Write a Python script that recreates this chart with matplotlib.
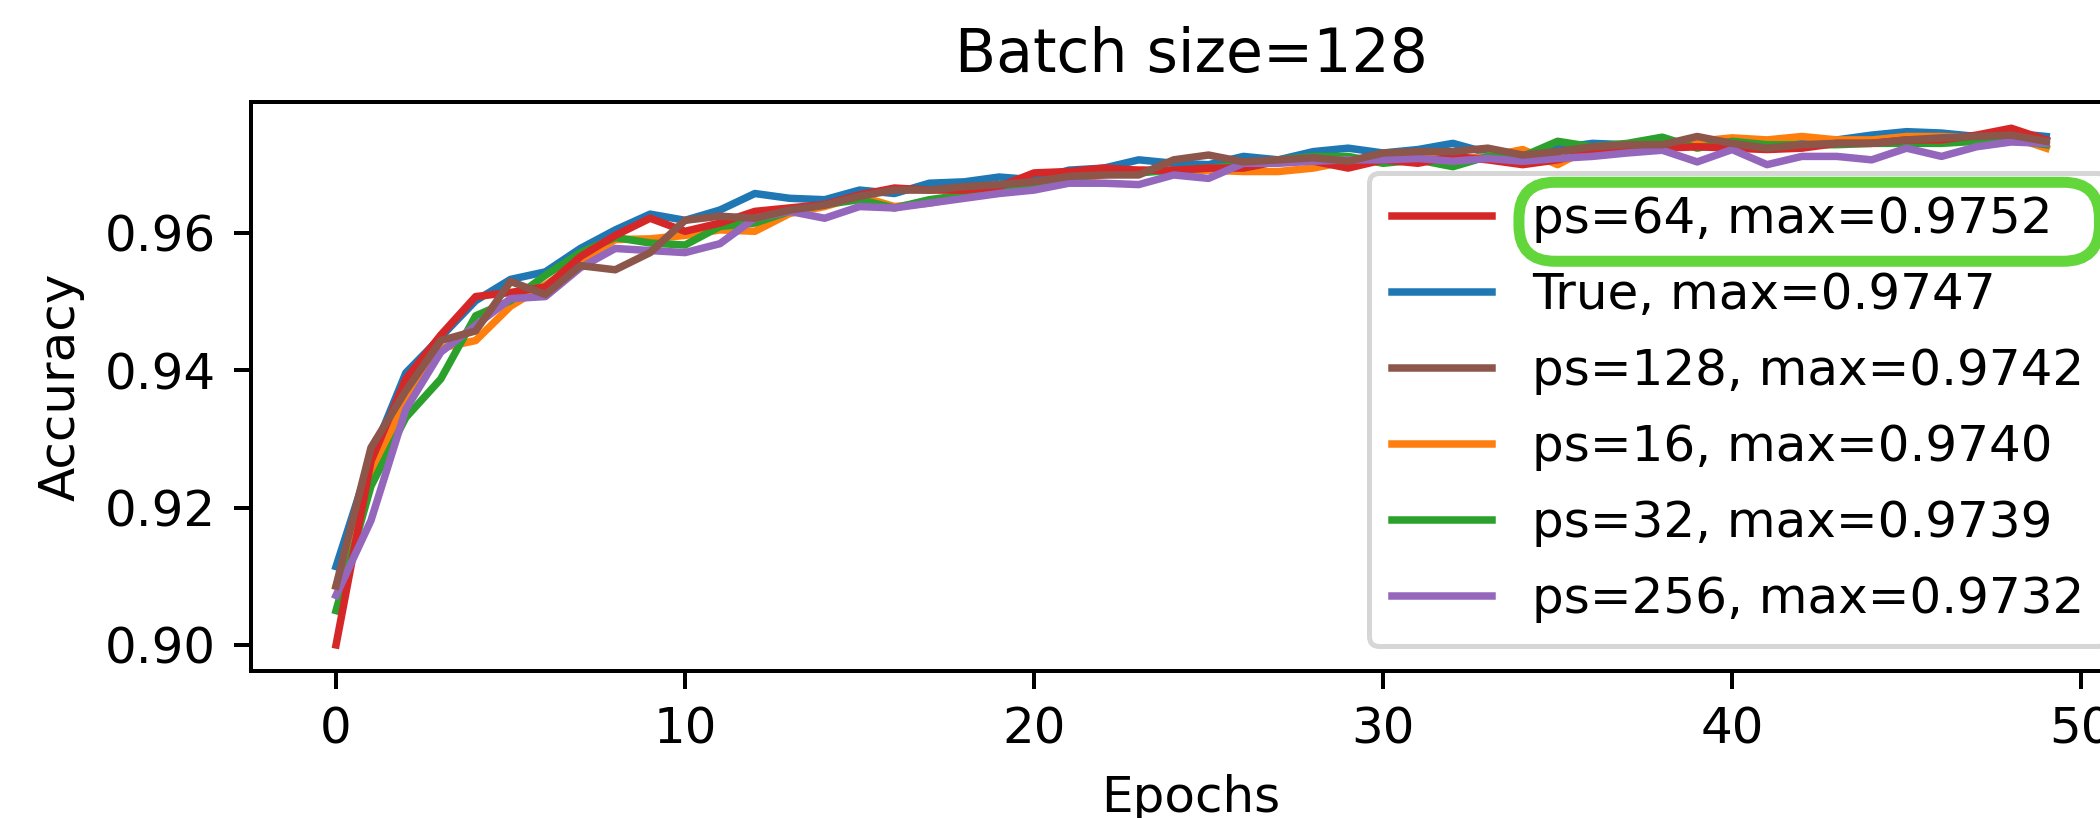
import matplotlib
matplotlib.use("Agg")
import matplotlib.pyplot as plt
from matplotlib.patches import FancyBboxPatch
from matplotlib.transforms import IdentityTransform

epochs = list(range(50))

acc_true = [0.9114, 0.9272, 0.9396, 0.9448, 0.9501, 0.9532, 0.9543, 0.9577, 0.9604, 0.9627,
            0.9618, 0.9633, 0.9657, 0.9650, 0.9648, 0.9662, 0.9657, 0.9672, 0.9674, 0.9681,
            0.9677, 0.9691, 0.9694, 0.9706, 0.9701, 0.9699, 0.9711, 0.9706, 0.9718, 0.9723,
            0.9716, 0.9721, 0.9730, 0.9716, 0.9713, 0.9723, 0.9730, 0.9728, 0.9730, 0.9728,
            0.9730, 0.9725, 0.9733, 0.9735, 0.9742, 0.9747, 0.9745, 0.9740, 0.9745, 0.9740]

acc_ps16 = [0.9085, 0.9242, 0.9359, 0.9432, 0.9443, 0.9493, 0.9524, 0.9557, 0.9590, 0.9591,
            0.9596, 0.9604, 0.9602, 0.9628, 0.9638, 0.9653, 0.9638, 0.9643, 0.9653, 0.9662,
            0.9672, 0.9677, 0.9684, 0.9691, 0.9689, 0.9691, 0.9689, 0.9689, 0.9694, 0.9704,
            0.9706, 0.9711, 0.9706, 0.9711, 0.9721, 0.9699, 0.9725, 0.9723, 0.9725, 0.9733,
            0.9738, 0.9735, 0.9740, 0.9735, 0.9735, 0.9740, 0.9740, 0.9738, 0.9740, 0.9723]

acc_ps32 = [0.9050, 0.9231, 0.9331, 0.9387, 0.9479, 0.9501, 0.9538, 0.9571, 0.9593, 0.9585,
            0.9582, 0.9609, 0.9614, 0.9631, 0.9641, 0.9648, 0.9636, 0.9648, 0.9655, 0.9660,
            0.9670, 0.9677, 0.9687, 0.9687, 0.9691, 0.9694, 0.9699, 0.9706, 0.9711, 0.9711,
            0.9701, 0.9706, 0.9696, 0.9711, 0.9711, 0.9733, 0.9725, 0.9730, 0.9739, 0.9723,
            0.9733, 0.9728, 0.9728, 0.9728, 0.9730, 0.9730, 0.9730, 0.9733, 0.9735, 0.9728]

acc_ps64 = [0.9000, 0.9267, 0.9387, 0.9451, 0.9507, 0.9513, 0.9521, 0.9565, 0.9596, 0.9621,
            0.9602, 0.9614, 0.9631, 0.9636, 0.9641, 0.9655, 0.9665, 0.9662, 0.9662, 0.9667,
            0.9687, 0.9689, 0.9694, 0.9691, 0.9691, 0.9694, 0.9694, 0.9704, 0.9704, 0.9694,
            0.9706, 0.9701, 0.9711, 0.9706, 0.9699, 0.9706, 0.9718, 0.9723, 0.9723, 0.9725,
            0.9723, 0.9721, 0.9723, 0.9730, 0.9730, 0.9735, 0.9735, 0.9742, 0.9752, 0.9735]

acc_ps256 = [0.9072, 0.9181, 0.9343, 0.9426, 0.9465, 0.9504, 0.9507, 0.9549, 0.9577, 0.9574,
             0.9571, 0.9584, 0.9621, 0.9631, 0.9621, 0.9638, 0.9636, 0.9643, 0.9650, 0.9657,
             0.9662, 0.9672, 0.9672, 0.9670, 0.9684, 0.9679, 0.9701, 0.9701, 0.9704, 0.9706,
             0.9706, 0.9708, 0.9704, 0.9708, 0.9704, 0.9708, 0.9711, 0.9716, 0.9720, 0.9703,
             0.9721, 0.9699, 0.9711, 0.9711, 0.9706, 0.9723, 0.9711, 0.9725, 0.9732, 0.9730]

acc_ps128 = [0.9086, 0.9287, 0.9370, 0.9443, 0.9457, 0.9529, 0.9510, 0.9552, 0.9546, 0.9571,
             0.9618, 0.9624, 0.9621, 0.9633, 0.9640, 0.9653, 0.9662, 0.9662, 0.9667, 0.9670,
             0.9674, 0.9682, 0.9684, 0.9684, 0.9706, 0.9713, 0.9703, 0.9706, 0.9709, 0.9704,
             0.9716, 0.9718, 0.9718, 0.9723, 0.9713, 0.9718, 0.9725, 0.9728, 0.9728, 0.9740,
             0.9730, 0.9723, 0.9728, 0.9730, 0.9730, 0.9735, 0.9738, 0.9740, 0.9742, 0.9733]

series_names = ["True", "ps=16", "ps=32", "ps=64", "ps=256", "ps=128"]
series_values = [acc_true, acc_ps16, acc_ps32, acc_ps64, acc_ps256, acc_ps128]
series_colors = ["C0", "C1", "C2", "C3", "C4", "C5"]

# figure rendered at 100 dpi; point sizes scaled so it reads like a 360 dpi export
K = 3.6
plt.rcParams.update({
    "font.size": 10 * K,
    "lines.linewidth": 1.5 * K,
    "axes.linewidth": 0.8 * K,
    "patch.linewidth": 1.0 * K,
    "xtick.major.size": 3.5 * K,
    "ytick.major.size": 3.5 * K,
    "xtick.major.width": 0.8 * K,
    "ytick.major.width": 0.8 * K,
    "xtick.major.pad": 3.5 * K,
    "ytick.major.pad": 3.5 * K,
    "axes.labelpad": 4.0 * K,
    "axes.titlepad": 6.0 * K,
})

fig = plt.figure(figsize=(21.0, 8.1801), dpi=100)
ax = fig.add_axes([0.1193, 0.1800, 0.8958, 0.6948])

entries = []
for name, vals, color in zip(series_names, series_values, series_colors):
    best = max(vals)
    line, = ax.plot(epochs, vals, color=color, label=f"{name}, max={best:.4f}")
    entries.append((best, line))
entries.sort(key=lambda t: -t[0])

leg = ax.legend(handles=[ln for _, ln in entries], loc="lower right",
                labelspacing=0.56, borderpad=0.45)
ax.set_title("Batch size=128")
ax.set_xlabel("Epochs")
ax.set_ylabel("Accuracy")

# green rounded frame around the best run's legend entry
fig.canvas.draw()
tb = leg.get_texts()[0].get_window_extent()
frame = FancyBboxPatch((tb.x0 - 13, tb.y0 - 18), tb.width + 60, tb.height + 31,
                       boxstyle="round,pad=0,rounding_size=36",
                       transform=IdentityTransform(), fill=False,
                       edgecolor="#62d63a", linewidth=11 * 0.72,
                       clip_on=False, zorder=10)
fig.add_artist(frame)

fig.savefig("out.png", dpi=100)
